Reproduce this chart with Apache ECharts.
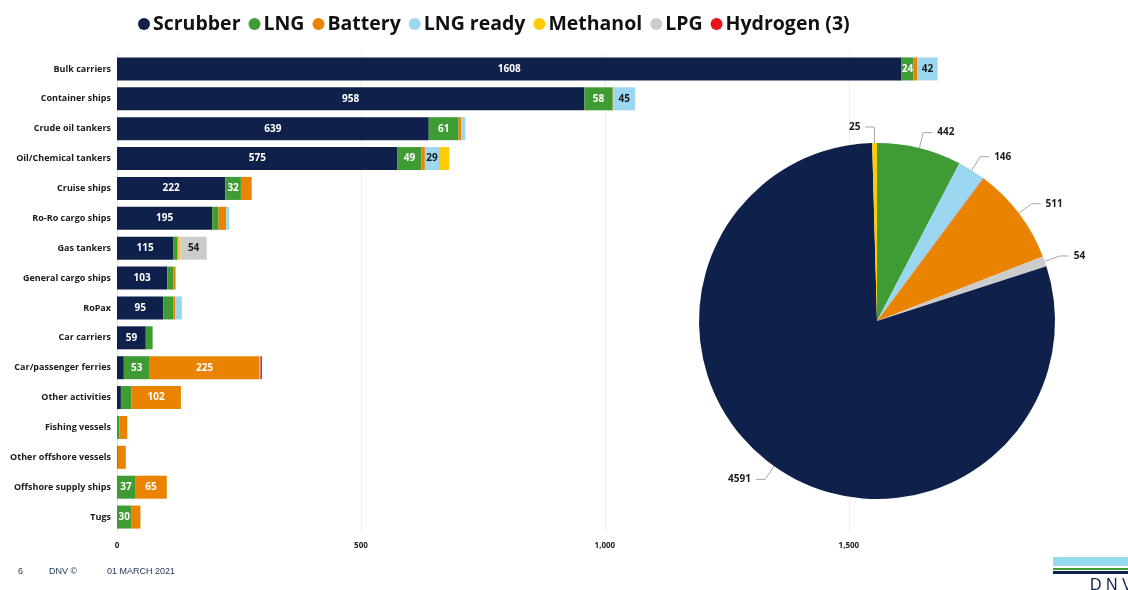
<!DOCTYPE html>
<html>
<head>
<meta charset="utf-8">
<script src="https://cdn.jsdelivr.net/npm/echarts@6/dist/echarts.min.js"></script>
<style>
  html, body { margin: 0; padding: 0; background: #ffffff; }
  #chart { width: 1128px; height: 590px; }
</style>
</head>
<body>
<div id="chart"></div>
<script>
// Ship types with alternative-fuel / scrubber installations
const categories = [
  'Bulk carriers', 'Container ships', 'Crude oil tankers', 'Oil/Chemical tankers',
  'Cruise ships', 'Ro-Ro cargo ships', 'Gas tankers', 'General cargo ships',
  'RoPax', 'Car carriers', 'Car/passenger ferries', 'Other activities',
  'Fishing vessels', 'Other offshore vessels', 'Offshore supply ships', 'Tugs'
];

const scrubber = [1608, 958, 639, 575, 222, 195, 115, 103, 95, 59, 14, 8, 0, 0, 0, 0];
const lng      = [24, 58, 61, 49, 32, 13, 9, 13, 21, 14, 53, 21, 5, 2, 37, 30];
const battery  = [8, 1, 6, 7, 22, 16, 2, 4, 3, 0, 225, 102, 16, 16, 65, 18];
const lngReady = [42, 45, 8, 29, 0, 6, 0, 0, 14, 0, 2, 0, 0, 0, 0, 0];
const methanol = [0, 0, 0, 21, 0, 0, 4, 0, 0, 0, 0, 0, 0, 0, 0, 0];
const lpg      = [0, 0, 0, 0, 0, 0, 54, 0, 0, 0, 0, 0, 0, 0, 0, 0];
const hydrogen = [0, 0, 0, 0, 0, 0, 0, 0, 0, 0, 3, 0, 0, 0, 0, 0];

// Fleet totals per technology, in pie order (clockwise from 12 o'clock)
const pieNames  = ['LNG', 'LNG ready', 'Hydrogen (3)', 'Battery', 'LPG', 'Scrubber', 'Methanol'];
const pieValues = [442, 146, 3, 511, 54, 4591, 25];

const xTicks = [0, 500, 1000, 1500];

const colors = {
  'Scrubber': '#0f204b',
  'LNG': '#3f9c35',
  'Battery': '#e98300',
  'LNG ready': '#9bd7f0',
  'Methanol': '#fecb00',
  'LPG': '#cccccc',
  'Hydrogen (3)': '#e8141b'
};

const FONT = '"Open Sans", "Noto Sans", sans-serif';

function barSeries(name, data, minLabel, labelColor) {
  return {
    name: name,
    type: 'bar',
    stack: 'total',
    data: data,
    barWidth: '77%',
    itemStyle: { color: colors[name] },
    label: {
      show: true,
      position: 'inside',
      fontFamily: FONT,
      fontWeight: 'bold',
      fontSize: 10,
      color: labelColor,
      formatter: p => (p.value >= minLabel ? String(p.value) : '')
    },
    emphasis: { disabled: true }
  };
}

const chart = echarts.init(document.getElementById('chart'), null, { renderer: 'canvas' });

chart.setOption({
  animation: false,
  backgroundColor: '#ffffff',
  legend: {
    left: 133,
    top: 9,
    icon: 'circle',
    itemWidth: 12,
    itemHeight: 12,
    itemGap: 8,
    textStyle: { fontFamily: FONT, fontWeight: 'bold', fontSize: 19.5, color: '#111111', padding: [0, 0, 0, -2] },
    data: ['Scrubber', 'LNG', 'Battery', 'LNG ready', 'Methanol', 'LPG', 'Hydrogen (3)']
  },
  grid: { left: 117, top: 54, right: 84, bottom: 58, containLabel: false },
  xAxis: {
    type: 'value',
    min: 0,
    max: 1900,
    interval: 500,
    axisLine: { show: false },
    axisTick: { show: false },
    splitLine: { show: true, showMaxLine: false, lineStyle: { color: '#eceef2', width: 1 } },
    axisLabel: {
      showMaxLabel: false,
      margin: 10,
      fontFamily: FONT,
      fontWeight: 'bold',
      fontSize: 8,
      color: '#222222',
      formatter: v => (xTicks.indexOf(v) >= 0 ? v.toLocaleString('en-US') : '')
    }
  },
  yAxis: {
    type: 'category',
    data: categories,
    inverse: true,
    axisLine: { show: true, lineStyle: { color: '#e2e4ea' } },
    axisTick: { show: false },
    axisLabel: {
      margin: 6,
      fontFamily: FONT,
      fontWeight: 'bold',
      fontSize: 9,
      color: '#1a1a1a'
    }
  },
  series: [
    barSeries('Scrubber', scrubber, 50, '#ffffff'),
    barSeries('LNG', lng, 24, '#ffffff'),
    barSeries('Battery', battery, 30, '#ffffff'),
    barSeries('LNG ready', lngReady, 25, '#1a1a1a'),
    barSeries('Methanol', methanol, 30, '#1a1a1a'),
    barSeries('LPG', lpg, 30, '#1a1a1a'),
    barSeries('Hydrogen (3)', hydrogen, 30, '#ffffff'),
    {
      name: 'Fleet',
      type: 'pie',
      center: [877, 321],
      radius: [0, 178],
      startAngle: 90,
      clockwise: true,
      z: 5,
      avoidLabelOverlap: false,
      emphasis: { disabled: true },
      label: {
        show: true,
        position: 'outside',
        fontFamily: FONT,
        fontWeight: 'bold',
        fontSize: 10,
        color: '#1a1a1a',
        formatter: '{c}'
      },
      labelLine: { show: true, length: 16, length2: 9, lineStyle: { color: '#a6a6a6', width: 1 } },
      data: pieNames.map((n, i) => ({
        name: n,
        value: pieValues[i],
        itemStyle: { color: colors[n] },
        label: { show: n !== 'Hydrogen (3)' },
        labelLine: { show: n !== 'Hydrogen (3)' }
      }))
    }
  ],
  graphic: [
    { type: 'text', left: 18, top: 567, style: { text: '6', font: '9px "Liberation Sans", Arial, sans-serif', fill: '#1d3557' } },
    { type: 'text', left: 49, top: 567, style: { text: 'DNV ©', font: '9px "Liberation Sans", Arial, sans-serif', fill: '#1d3557' } },
    { type: 'text', left: 107, top: 567, style: { text: '01 MARCH 2021', font: '9px "Liberation Sans", Arial, sans-serif', fill: '#1d3557' } },
    // brand mark, bottom right
    { type: 'rect', shape: { x: 1053, y: 557, width: 75, height: 9 }, style: { fill: '#99d9f0' } },
    { type: 'rect', shape: { x: 1053, y: 568, width: 75, height: 2 }, style: { fill: '#3f9c35' } },
    { type: 'rect', shape: { x: 1053, y: 571, width: 75, height: 3 }, style: { fill: '#0f204b' } },
    { type: 'text', left: 1090, top: 578, style: { text: 'D N V', font: '16px "Liberation Sans", Arial, sans-serif', fill: '#0f204b' } }
  ]
});
</script>
</body>
</html>
